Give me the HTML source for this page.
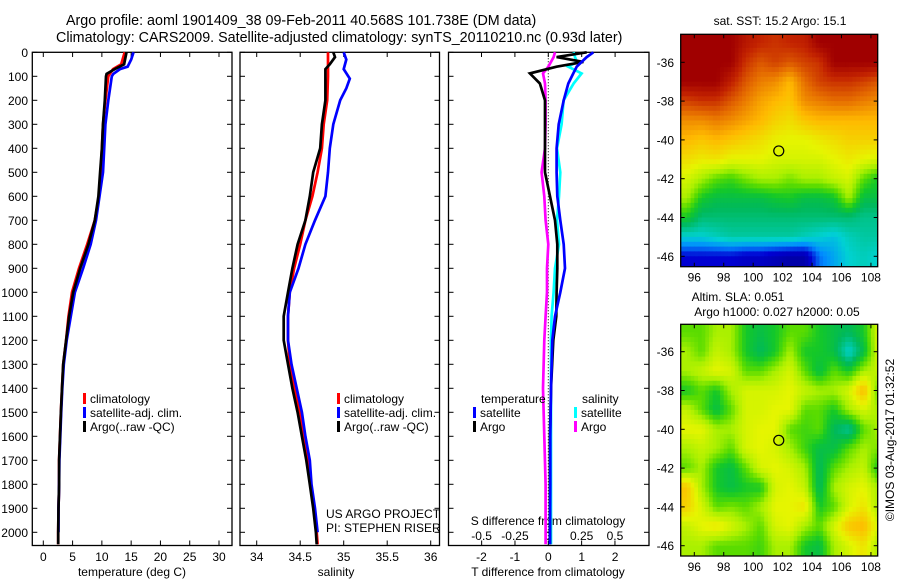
<!DOCTYPE html>
<html><head><meta charset="utf-8"><style>
html,body{margin:0;padding:0;background:#fff;width:900px;height:580px;overflow:hidden}
svg{display:block;font-family:"Liberation Sans",sans-serif}
text{fill:#000}
</style></head><body>
<svg id="c" width="900" height="580" viewBox="0 0 900 580">
<text x="66" y="25" font-size="14.3">Argo profile: aoml 1901409_38 09-Feb-2011 40.568S 101.738E (DM data)</text>
<text x="56" y="42" font-size="14.3">Climatology: CARS2009. Satellite-adjusted climatology: synTS_20110210.nc (0.93d later)</text>
<text x="780" y="25" font-size="12" text-anchor="middle">sat. SST: 15.2 Argo: 15.1</text>
<text x="738" y="301" font-size="12" text-anchor="middle">Altim. SLA: 0.051</text>
<text x="777" y="316" font-size="12" text-anchor="middle">Argo h1000: 0.027 h2000: 0.05</text>
<text x="326" y="518" font-size="12">US ARGO PROJECT</text>
<text x="326" y="532" font-size="12">PI: STEPHEN RISER</text>
<text transform="translate(894,440) rotate(-90)" font-size="12" text-anchor="middle">©IMOS 03-Aug-2017 01:32:52</text>
<text x="132" y="576" font-size="12" text-anchor="middle">temperature (deg C)</text>
<text x="336" y="576" font-size="12" text-anchor="middle">salinity</text>
<text x="548" y="525" font-size="12" text-anchor="middle">S difference from climatology</text>
<text x="548" y="576" font-size="12" text-anchor="middle">T difference from climatology</text>
</svg>
<script>
// ---- data ----
const depthTicks=[0,100,200,300,400,500,600,700,800,900,1000,1100,1200,1300,1400,1500,1600,1700,1800,1900,2000];
const tTicks=[0,5,10,15,20,25,30];
const sTicks=[34,34.5,35,35.5,36];
const tdTicks=[-2,-1,0,1,2];
const sdTicks=[-0.5,-0.25,0,0.25,0.5];
const sdTickLabels=["-0.5","-0.25","0","0.25","0.5"];
const lonTicks=[96,98,100,102,104,106,108];
const latTicks=[-36,-38,-40,-42,-44,-46];

const depthArgoT=[0,50,70,90,100,200,300,400,500,600,700,800,900,1000,1100,1200,1300,1400,1500,1600,1700,1800,1900,2000,2050];
const tempArgo=[14.2,13.8,12.2,10.8,10.7,10.5,10.2,10.0,9.7,9.4,8.8,7.7,6.3,5.1,4.4,3.9,3.4,3.2,3.0,2.85,2.7,2.7,2.6,2.55,2.55];
const depthClimT=[0,50,70,100,200,300,400,500,600,700,800,900,1000,1100,1200,1300,1400,1500,1600,1700,1800,1900,2000,2050];
const tempClim=[13.9,13.3,11.9,11.1,10.6,10.2,10.0,9.8,9.5,8.8,7.5,6.1,4.9,4.3,3.9,3.4,3.2,3.0,2.85,2.7,2.7,2.6,2.55,2.55];
const depthSatT=[0,30,60,70,90,100,200,300,400,500,600,700,800,900,1000,1100,1200,1300,1400,1500,1600,1700,1800,1900,2000];
const tempSat=[15.4,15.0,14.4,13.1,11.95,11.7,11.1,10.6,10.4,10.2,9.6,9.0,8.1,6.8,5.4,4.7,4.0,3.5,3.25,3.05,2.9,2.75,2.7,2.6,2.6];

const depthS=[0,20,50,70,100,200,300,400,500,600,700,800,900,1000,1100,1200,1300,1400,1500,1600,1700,1800,1900,2000,2050];
const salArgo=[34.88,34.9,34.84,34.79,34.79,34.79,34.75,34.73,34.65,34.61,34.56,34.47,34.41,34.36,34.31,34.31,34.36,34.41,34.47,34.52,34.57,34.61,34.65,34.68,34.69];
const salClim=[34.82,34.82,34.82,34.82,34.82,34.81,34.77,34.75,34.7,34.64,34.56,34.5,34.43,34.38,34.36,34.36,34.38,34.43,34.5,34.54,34.59,34.62,34.66,34.69,34.7];
const depthSatS=[0,30,70,110,150,200,300,400,500,600,700,800,900,1000,1100,1200,1300,1400,1500,1600,1700,1800,1900,2000];
const salSat=[35.0,35.03,35.0,35.07,35.03,34.96,34.88,34.84,34.82,34.79,34.67,34.56,34.48,34.38,34.36,34.36,34.4,34.46,34.52,34.56,34.61,34.63,34.67,34.7];

const depthD=[0,20,40,60,88,130,200,300,400,500,600,700,800,900,1000,1100,1200,1400,1600,1800,2000,2050];
const tdArgo=[1.15,0.25,1.05,0.25,-0.55,-0.25,-0.1,-0.1,-0.1,-0.1,0.05,0.2,0.27,0.27,0.25,0.24,0.15,0.08,0.05,0.05,0.05,0.05];
const tdSat=[1.35,1.15,1.0,0.85,0.75,0.6,0.46,0.31,0.25,0.25,0.27,0.36,0.46,0.5,0.36,0.2,0.12,0.08,0.06,0.06,0.05,0.05];
const sdArgo=[0.05,0.04,0.02,0,-0.04,-0.025,-0.02,-0.02,-0.025,-0.05,-0.03,-0.02,0,-0.01,-0.01,-0.02,-0.03,-0.04,-0.03,-0.02,-0.02,-0.02];
const sdSat=[0.19,0.2,0.215,0.15,0.25,0.19,0.115,0.1,0.065,0.09,0.08,0.065,0.08,0.05,0.04,0.025,0.02,0.02,0.02,0.02,0.02,0.02];

const mapLons=[95.5,96.5,97.5,98.5,99.5,100.5,101.5,102.5,103.5,104.5,105.5,106.5,107.5,108.5];
const mapLats=[-35,-36,-37,-38,-39,-40,-41,-42,-43,-44,-45,-46];
const sstGrid=[
[1,1,1,1,.95,.92,.9,.92,.93,1,1,1,1,1],
[1,1,1,1,.9,.85,.88,.85,.88,.9,1,1,1,1],
[1,1,1,.93,.85,.8,.78,.72,.82,.88,.9,.9,.88,.85],
[.88,.9,.9,.85,.8,.75,.72,.7,.78,.8,.82,.82,.8,.78],
[.78,.78,.8,.78,.75,.72,.68,.66,.7,.72,.72,.72,.72,.72],
[.72,.7,.72,.7,.68,.66,.63,.62,.62,.64,.66,.68,.68,.68],
[.66,.64,.65,.62,.62,.62,.6,.6,.6,.6,.62,.64,.62,.6],
[.6,.55,.5,.48,.52,.55,.55,.52,.55,.55,.58,.6,.5,.45],
[.55,.45,.42,.42,.42,.42,.44,.45,.42,.42,.44,.55,.42,.42],
[.45,.38,.38,.38,.38,.38,.38,.38,.38,.38,.38,.38,.36,.36],
[.3,.3,.32,.34,.34,.34,.34,.34,.32,.3,.28,.32,.34,.34],
[.12,.12,.12,.12,.1,.1,.08,.06,.06,.2,.25,.3,.32,.3]];
const slaGrid=[
[.5,.5,.55,.55,.45,.42,.45,.5,.5,.45,.42,.4,.45,.6],
[.55,.5,.58,.55,.45,.4,.45,.55,.45,.45,.42,.3,.42,.6],
[.55,.58,.62,.6,.5,.5,.55,.6,.5,.42,.5,.45,.55,.58],
[.45,.5,.45,.55,.6,.6,.6,.62,.58,.55,.55,.6,.72,.5],
[.58,.5,.42,.5,.6,.6,.62,.62,.5,.5,.45,.55,.6,.55],
[.62,.62,.55,.55,.6,.62,.62,.5,.48,.5,.4,.35,.5,.55],
[.55,.58,.55,.5,.6,.62,.6,.55,.48,.42,.42,.5,.55,.52],
[.5,.55,.45,.42,.5,.6,.62,.6,.55,.4,.5,.55,.58,.45],
[.7,.55,.45,.42,.45,.45,.6,.62,.58,.4,.55,.6,.62,.55],
[.68,.6,.5,.52,.5,.55,.62,.62,.65,.45,.5,.6,.65,.55],
[.58,.62,.65,.6,.55,.5,.6,.62,.55,.5,.6,.7,.72,.6],
[.55,.55,.5,.5,.5,.48,.55,.55,.45,.42,.55,.6,.65,.55]];
const floatLon=101.738, floatLat=-40.568;

// ---- helpers ----
const NS="http://www.w3.org/2000/svg";
const svg=document.getElementById('c');
function mk(tag,attrs,parent){const e=document.createElementNS(NS,tag);for(const k in attrs)e.setAttribute(k,attrs[k]);(parent||svg).appendChild(e);return e;}
const Y=d=>52.3+d*0.24;
const PB=545.5;
const panels=[
 {x0:32.3,x1:232,fx:v=>43.3+v*5.857,ticks:tTicks,labels:tTicks.map(String),name:'temperature'},
 {x0:240,x1:439.5,fx:v=>256.7+(v-34)*87,ticks:sTicks,labels:sTicks.map(String),name:'salinity'},
 {x0:448.5,x1:649,fx:v=>548.3+v*33.4,ticks:tdTicks,labels:tdTicks.map(String),name:'t-diff'}];
const fsd=v=>548.3+v*133.3;

panels.forEach((p,i)=>{
 const r=mk('rect',{x:p.x0,y:52.3,width:p.x1-p.x0,height:PB-52.3,fill:'none',stroke:'#000','stroke-width':1.3});
 
 
 depthTicks.forEach(d=>{
  const t1=mk('line',{x1:p.x0,x2:p.x0+5,y1:Y(d),y2:Y(d),stroke:'#000'});
  
  
  const t2=mk('line',{x1:p.x1,x2:p.x1-5,y1:Y(d),y2:Y(d),stroke:'#000'});
  
  
 });
 p.ticks.forEach((v,j)=>{
  const x=p.fx(v);
  const a=mk('line',{x1:x,x2:x,y1:52.3,y2:57,stroke:'#000'});
  
  
  if(i<2){const b=mk('line',{x1:x,x2:x,y1:PB,y2:PB-5,stroke:'#000'});
  
  }
  const t=mk('text',{x:x,y:561,'font-size':12,'text-anchor':'middle'});
  t.textContent=p.labels[j];
  
  
 });
});
depthTicks.forEach(d=>{
 const t=mk('text',{x:28,y:Y(d)+4.5,'font-size':12,'text-anchor':'end'});
 t.textContent=String(d);
 
 
});
sdTicks.forEach((v,j)=>{
 const x=fsd(v);
 const b=mk('line',{x1:x,x2:x,y1:PB,y2:PB-5,stroke:'#000'});
 
 
 const t=mk('text',{x:x,y:540,'font-size':12,'text-anchor':'middle'});
 t.textContent=sdTickLabels[j];
 
 
});
const zl=mk('line',{x1:548.3,x2:548.3,y1:52.3,y2:PB,stroke:'#000','stroke-dasharray':'1,2'});



function prof(depths,vals,fx,color,name){
 const pts=depths.map((d,i)=>fx(vals[i]).toFixed(1)+','+Y(d).toFixed(1)).join(' ');
 const l=mk('polyline',{points:pts,fill:'none',stroke:color,'stroke-width':2.7,'stroke-linejoin':'miter'});
 
 
}
prof(depthClimT,tempClim,panels[0].fx,'#f00','temp-climatology-line');
prof(depthSatT,tempSat,panels[0].fx,'#00f','temp-satellite-line');
prof(depthArgoT,tempArgo,panels[0].fx,'#000','temp-argo-line');
prof(depthS,salClim,panels[1].fx,'#f00','sal-climatology-line');
prof(depthSatS,salSat,panels[1].fx,'#00f','sal-satellite-line');
prof(depthS,salArgo,panels[1].fx,'#000','sal-argo-line');
prof(depthD,sdArgo,fsd,'#f0f','sdiff-argo-line');
prof(depthD,sdSat,fsd,'#0ff','sdiff-satellite-line');
prof(depthD,tdArgo,panels[2].fx,'#000','tdiff-argo-line');
prof(depthD,tdSat,panels[2].fx,'#00f','tdiff-satellite-line');

function legend(x,y,items,name){
 items.forEach((it,i)=>{
  const r=mk('rect',{x:x,y:y+i*14-10,width:3,height:11,fill:it[1]});
  
  
  const t=mk('text',{x:x+7,y:y+i*14,'font-size':12});
  t.textContent=it[0];
  
  
 });
}
const lg=[['climatology','#f00'],['satellite-adj. clim.','#00f'],['Argo(..raw -QC)','#000']];
legend(83,403,lg,'temp-legend');
legend(337,403,lg,'sal-legend');
const th=mk('text',{x:481,y:403,'font-size':12});th.textContent='temperature';


const sh=mk('text',{x:582,y:403,'font-size':12});sh.textContent='salinity';


legend(473,417,[['satellite','#00f'],['Argo','#000']],'tdiff-legend');
legend(574,417,[['satellite','#0ff'],['Argo','#f0f']],'sdiff-legend');

// ---- maps ----
const cstops=[[0,[0,0,128]],[.12,[0,0,210]],[.22,[0,140,255]],[.3,[0,210,210]],[.4,[0,185,90]],[.45,[20,200,40]],[.5,[90,220,0]],[.55,[170,240,0]],[.62,[230,245,0]],[.72,[255,185,0]],[.82,[230,110,0]],[.92,[195,35,0]],[1,[160,0,0]]];
function cmap(v){v=Math.max(0,Math.min(1,v));for(let i=1;i<cstops.length;i++){if(v<=cstops[i][0]){const a=cstops[i-1],b=cstops[i],t=(v-a[0])/(b[0]-a[0]);return 'rgb('+a[1].map((c,k)=>Math.round(c+(b[1][k]-c)*t)).join(',')+')';}}return 'rgb(160,0,0)';}
function bilin(grid,fi,fj){
 const R=grid.length-1,C=grid[0].length-1;
 fi=Math.max(0,Math.min(R,fi));fj=Math.max(0,Math.min(C,fj));
 const i0=Math.min(R-1,Math.floor(fi)),j0=Math.min(C-1,Math.floor(fj));
 const a=fi-i0,b=fj-j0;
 return grid[i0][j0]*(1-a)*(1-b)+grid[i0][j0+1]*(1-a)*b+grid[i0+1][j0]*a*(1-b)+grid[i0+1][j0+1]*a*b;
}
const mx0=680.7,mx1=877.7;
const lonX=l=>694.3+(l-96)*14.72;
function drawMap(top,bot,lat36,grid,name){
 const latY=la=>lat36+(-36-la)*19.4;
 const g=mk('g',{});
 
 
 const cp=mk('clipPath',{id:name+'-clip'},g);mk('rect',{x:mx0,y:top,width:mx1-mx0,height:bot-top},cp);
 const cg=mk('g',{'clip-path':'url(#'+name+'-clip)'},g);
 const sub=4, step=1/sub;
 const lonMin=mapLons[0]-0.5, latMax=mapLats[0]+0.5;
 const nC=mapLons.length*sub, nR=mapLats.length*sub;
 for(let r=0;r<nR;r++)for(let c=0;c<nC;c++){
  const lon=lonMin+(c+0.5)*step, lat=latMax-(r+0.5)*step;
  const fj=(lon-mapLons[0]), fi=(mapLats[0]-lat);
  const v=bilin(grid,fi,fj);
  const x=lonX(lon-step/2), y=latY(lat+step/2);
  const cell=mk('rect',{x:x.toFixed(1),y:y.toFixed(1),width:(14.72*step+0.6).toFixed(2),height:(19.4*step+0.6).toFixed(2),fill:cmap(v)},cg);
  
  
 }
 const fr=mk('rect',{x:mx0,y:top,width:mx1-mx0,height:bot-top,fill:'none',stroke:'#000','stroke-width':1.3},g);
 
 
 lonTicks.forEach(l=>{
  const x=lonX(l);
  mk('line',{x1:x,x2:x,y1:bot,y2:bot-4,stroke:'#000'},g);
  mk('line',{x1:x,x2:x,y1:top,y2:top+4,stroke:'#000'},g);
  const t=mk('text',{x:x,y:bot+15,'font-size':12,'text-anchor':'middle'},g);t.textContent=String(l);
  
  
 });
 latTicks.forEach(la=>{
  const y=latY(la);
  mk('line',{x1:mx0,x2:mx0+4,y1:y,y2:y,stroke:'#000'},g);
  mk('line',{x1:mx1,x2:mx1-4,y1:y,y2:y,stroke:'#000'},g);
  const t=mk('text',{x:674,y:y+4.5,'font-size':12,'text-anchor':'end'},g);t.textContent=String(la);
  
  
 });
 const m=mk('circle',{cx:lonX(floatLon),cy:latY(floatLat),r:5,fill:'none',stroke:'#000','stroke-width':1.2},g);
 
 
}
drawMap(34.3,266.7,62.3,sstGrid,'sst-map');
drawMap(324.3,556,351.7,slaGrid,'sla-map');
</script>
</body></html>
